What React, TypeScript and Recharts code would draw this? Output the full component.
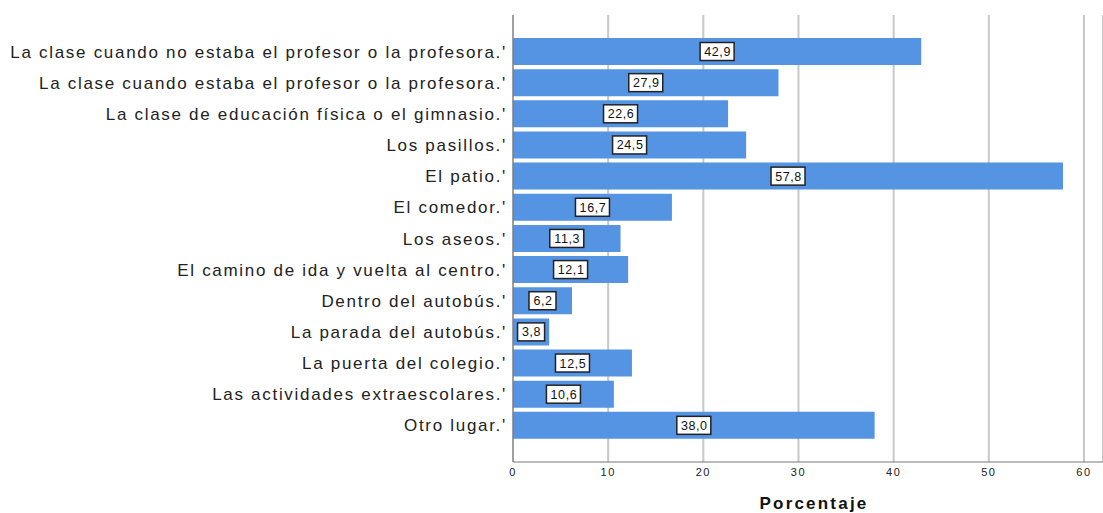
import { BarChart, Bar, XAxis, YAxis, CartesianGrid, LabelList } from "recharts"

const places = [
  "La clase cuando no estaba el profesor o la profesora.'",
  "La clase cuando estaba el profesor o la profesora.'",
  "La clase de educación física o el gimnasio.'",
  "Los pasillos.'",
  "El patio.'",
  "El comedor.'",
  "Los aseos.'",
  "El camino de ida y vuelta al centro.'",
  "Dentro del autobús.'",
  "La parada del autobús.'",
  "La puerta del colegio.'",
  "Las actividades extraescolares.'",
  "Otro lugar.'",
]

const percentages = [42.9, 27.9, 22.6, 24.5, 57.8, 16.7, 11.3, 12.1, 6.2, 3.8, 12.5, 10.6, 38.0]

const xTicks = [0, 10, 20, 30, 40, 50, 60]

const data = places.map((place, i) => ({ place, value: percentages[i] }))

const fmt = (v: number) => v.toFixed(1).replace(".", ",")

function ValueBox(props: any) {
  const { x, y, width, height, value } = props
  const text = fmt(value)
  const w = text.length * 7 + 6
  const h = 18
  const cx = x + width / 2
  const cy = y + height / 2
  return (
    <g>
      <rect x={cx - w / 2} y={cy - h / 2} width={w} height={h} fill="#fff" stroke="#222" strokeWidth={1.5} />
      <text
        x={cx + 0.5}
        y={cy + 0.5}
        textAnchor="middle"
        dominantBaseline="central"
        fontSize={12.5}
        fontFamily="Liberation Sans"
        letterSpacing={0.6}
        fill="#111"
      >
        {text}
      </text>
    </g>
  )
}

export default function App() {
  return (
    <div style={{ position: "absolute", left: 0, top: 0, background: "#fff" }}>
      <BarChart
        width={1103}
        height={513}
        data={data}
        layout="vertical"
        margin={{ top: 15, right: 0, left: 0, bottom: 0 }}
      >
        <CartesianGrid horizontal={false} stroke="#c8c8c8" strokeWidth={2} />
        <XAxis
          type="number"
          domain={[0, 62]}
          ticks={xTicks}
          tickLine={false}
          tickSize={4}
          height={51}
          stroke="#777"
          tick={{ fontSize: 11, fill: "#222", fontFamily: "Liberation Sans", letterSpacing: 1.5 }}
          label={{
            value: "Porcentaje",
            position: "insideBottom",
            offset: 4,
            dx: 6,
            style: { fontSize: 17, fontWeight: "bold", fill: "#111", fontFamily: "Liberation Sans", letterSpacing: 2.2 },
          }}
        />
        <YAxis
          type="category"
          dataKey="place"
          width={513}
          tickLine={false}
          tickSize={4}
          stroke="#777"
          interval={0}
          padding={{ top: 21, bottom: 21 }}
          tick={{ fontSize: 17, fill: "#222", fontFamily: "Liberation Sans", letterSpacing: 1.7 }}
        />
        <Bar dataKey="value" fill="#5594e3" barSize={27} isAnimationActive={false}>
          <LabelList dataKey="value" content={<ValueBox />} />
        </Bar>
      </BarChart>
    </div>
  )
}
